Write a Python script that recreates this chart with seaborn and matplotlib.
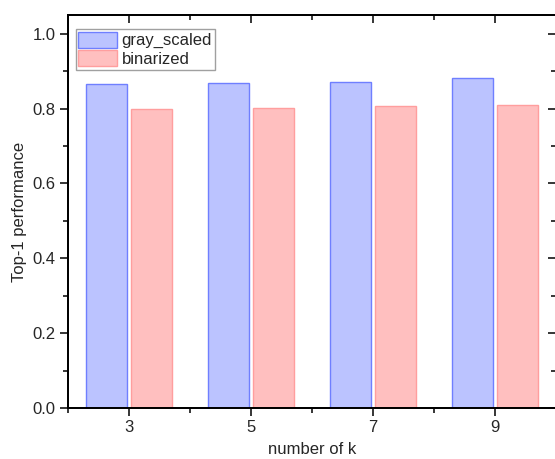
import pandas as pd
import numpy as np
import matplotlib
matplotlib.use("Agg")
import matplotlib.pyplot as plt
import seaborn as sns
from matplotlib.ticker import MultipleLocator

# values
k_values = [3, 5, 7, 9]
gray_scaled = [0.866, 0.869, 0.872, 0.882]
binarized = [0.800, 0.802, 0.806, 0.810]
series = ["gray_scaled", "binarized"]
y_ticks = [0.0, 0.2, 0.4, 0.6, 0.8, 1.0]

df = pd.DataFrame({
    "k": k_values * 2,
    "perf": gray_scaled + binarized,
    "method": [series[0]] * len(k_values) + [series[1]] * len(k_values),
})

sns.set_theme(style="white")
plt.rcParams['font.family'] = ['Liberation Sans', 'DejaVu Sans']

fig = plt.figure(figsize=(5.55, 4.59), dpi=100)
ax = fig.add_axes([68 / 555, 51 / 459, 488 / 555, 393 / 459])

fills = {"gray_scaled": "#bbc3ff", "binarized": "#ffbfbf"}
edges = {"gray_scaled": "#6f7fff", "binarized": "#ff9e9e"}

sns.barplot(data=df, x="k", y="perf", hue="method", native_scale=True,
            palette=fills, saturation=1, width=0.73, gap=0.08, ax=ax,
            legend=True)

# colour the outlines per series
for cont, name in zip(ax.containers, series):
    for bar in cont:
        bar.set_edgecolor(edges[name])
        bar.set_linewidth(1.0)

xlim = (2, 10)
ylim = (0, 1.05)
ax.set_xlim(*xlim)
ax.set_ylim(*ylim)
ax.set_xticks(k_values)
ax.xaxis.set_minor_locator(MultipleLocator(1))
ax.set_yticks(y_ticks)
ax.set_yticklabels([f"{v:.1f}" for v in y_ticks])
ax.yaxis.set_minor_locator(MultipleLocator(0.1))

ax.set_xlabel("number of k", fontsize=12, labelpad=5)
ax.set_ylabel("Top-1 performance", fontsize=12)

for s in ax.spines.values():
    s.set_color("black")
    s.set_linewidth(1.2)

ax.tick_params(which="both", direction="out", labelsize=12, color="black",
               bottom=True, left=True, top=False, right=False, pad=3)
ax.tick_params(which="major", length=6, width=1.1)
ax.tick_params(which="minor", length=3.5, width=1.1)

# mirrored inward ticks on top and right
top = ax.twiny()
top.set_xlim(*xlim)
top.set_xticks(k_values)
top.xaxis.set_minor_locator(MultipleLocator(1))
top.tick_params(which="both", direction="in", labeltop=False, color="black", top=True)
top.tick_params(which="major", length=6, width=1.1)
top.tick_params(which="minor", length=3.5, width=1.1)
right = ax.twinx()
right.set_ylim(*ylim)
right.set_yticks(y_ticks)
right.yaxis.set_minor_locator(MultipleLocator(0.1))
right.tick_params(which="both", direction="in", labelright=False, color="black", right=True)
right.tick_params(which="major", length=6, width=1.1)
right.tick_params(which="minor", length=3.5, width=1.1)
for a in (top, right):
    for s in a.spines.values():
        s.set_linewidth(1.2)
        s.set_color("black")

leg = ax.legend(loc="upper left", bbox_to_anchor=(0.016, 0.964),
                borderaxespad=0, fontsize=12, frameon=True, fancybox=False,
                edgecolor="#888888", borderpad=0.15, handlelength=2.3,
                handleheight=1.1, labelspacing=0.12, handletextpad=0.3)
leg.get_frame().set_linewidth(1.0)
for h, name in zip(leg.legend_handles, series):
    h.set_edgecolor(edges[name])
    h.set_facecolor(fills[name])

fig.savefig("out.png", dpi=100)
